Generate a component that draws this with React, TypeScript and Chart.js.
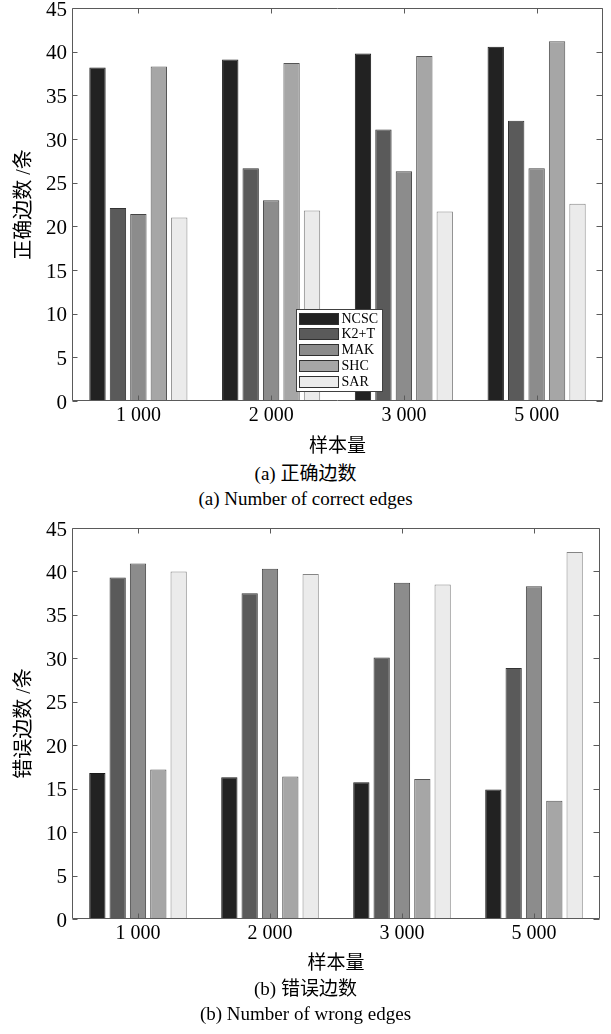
import React, { useEffect, useRef } from "react";
import { Chart, registerables } from "chart.js";

Chart.register(...registerables);

// ---------- data ----------
const categories = ["1 000", "2 000", "3 000", "5 000"];
const methods = ["NCSC", "K2+T", "MAK", "SHC", "SAR"];

const correctNCSC = [38.2, 39.1, 39.8, 40.55];
const correctK2T = [22.1, 26.65, 31.1, 32.1];
const correctMAK = [21.4, 23.0, 26.3, 26.65];
const correctSHC = [38.3, 38.7, 39.5, 41.2];
const correctSAR = [21.0, 21.8, 21.7, 22.6];

const wrongNCSC = [16.8, 16.3, 15.75, 14.9];
const wrongK2T = [39.3, 37.5, 30.1, 28.9];
const wrongMAK = [40.9, 40.3, 38.7, 38.3];
const wrongSHC = [17.2, 16.4, 16.1, 13.6];
const wrongSAR = [40.0, 39.7, 38.5, 42.25];

const yMin = 0;
const yMax = 45;
const yStep = 5;

const xTitle = "样本量";
const yTitleCorrect = "正确边数 /条";
const yTitleWrong = "错误边数 /条";
const captionA1 = "(a) 正确边数";
const captionA2 = "(a) Number of correct edges";
const captionB1 = "(b) 错误边数";
const captionB2 = "(b) Number of wrong edges";

// ---------- styles ----------
const fillColors = ["#222222", "#5a5a5a", "#8c8c8c", "#a6a6a6", "#ebebeb"];
const edgeColors = ["#1a1a1a", "#333333", "#444444", "#555555", "#858585"];
const FONT = "'Liberation Serif', 'Noto Sans CJK SC', serif";

const framePlugin = {
  id: "frame",
  afterDatasetsDraw(chart: any) {
    const { ctx, chartArea: a, scales } = chart;
    const l = Math.round(a.left) + 0.5;
    const r = Math.round(a.right) - 0.5;
    const t = Math.round(a.top) + 0.5;
    const b = Math.round(a.bottom) - 0.5;
    ctx.save();
    ctx.strokeStyle = "#5a5a5a";
    ctx.lineWidth = 1;
    ctx.beginPath();
    ctx.rect(l, t, r - l, b - t);
    const xs = scales.x;
    for (let i = 0; i < xs.ticks.length; i++) {
      const px = Math.round(xs.getPixelForTick(i)) + 0.5;
      ctx.moveTo(px, t);
      ctx.lineTo(px, t + 5);
      ctx.moveTo(px, b);
      ctx.lineTo(px, b - 5);
    }
    const ys = scales.y;
    for (const tk of ys.ticks) {
      const py = Math.round(ys.getPixelForValue(tk.value)) + 0.5;
      ctx.moveTo(l, py);
      ctx.lineTo(l + 5, py);
      ctx.moveTo(r, py);
      ctx.lineTo(r - 6, py);
    }
    ctx.stroke();
    ctx.restore();
  },
};

const boxLegendPlugin = {
  id: "boxLegend",
  afterDraw(chart: any, _args: any, opts: any) {
    if (!opts || !opts.show) return;
    const { ctx, chartArea: a } = chart;
    const x0 = Math.round(a.left + opts.dx) + 0.5;
    const y0 = Math.round(a.top + opts.dy) + 0.5;
    ctx.save();
    ctx.fillStyle = "#ffffff";
    ctx.strokeStyle = "#404040";
    ctx.lineWidth = 1;
    ctx.fillRect(x0, y0, opts.w, opts.h);
    ctx.strokeRect(x0, y0, opts.w, opts.h);
    ctx.font = `14px ${FONT}`;
    ctx.textBaseline = "middle";
    ctx.textAlign = "left";
    chart.data.datasets.forEach((ds: any, i: number) => {
      const sy = Math.round(y0 + 3 + i * 15.8) + 0.5;
      const sx = x0 + 3;
      ctx.fillStyle = ds.backgroundColor;
      ctx.fillRect(sx, sy, 39, 11);
      ctx.strokeStyle = "#303030";
      ctx.strokeRect(sx, sy, 39, 11);
      ctx.fillStyle = "#000000";
      ctx.fillText(ds.label, x0 + 45, sy + 6);
    });
    ctx.restore();
  },
};

type PanelProps = {
  top: number;
  height: number;
  xHeight: number;
  rightPad: number;
  tickPad: number;
  series: number[][];
  yTitle: string;
  legend: boolean;
};

function BarPanel(p: PanelProps) {
  const ref = useRef<HTMLCanvasElement | null>(null);
  useEffect(() => {
    if (!ref.current) return;
    const chart = new Chart(ref.current, {
      type: "bar",
      data: {
        labels: categories,
        datasets: methods.map((m, i) => ({
          label: m,
          data: p.series[i],
          backgroundColor: fillColors[i],
          borderColor: edgeColors[i],
          borderWidth: 1,
          categoryPercentage: 0.77,
          barPercentage: 0.8,
        })),
      },
      options: {
        animation: false,
        responsive: false,
        maintainAspectRatio: false,
        layout: { padding: { left: 0, right: p.rightPad, top: 20, bottom: 0 } },
        plugins: {
          legend: { display: false },
          tooltip: { enabled: false },
          boxLegend: { show: p.legend, dx: 224, dy: 301, w: 86, h: 82 },
        } as any,
        scales: {
          x: {
            grid: { display: false, drawTicks: false },
            border: { display: false },
            ticks: {
              font: { family: FONT, size: 20 },
              color: "#000000",
              padding: p.tickPad,
              maxRotation: 0,
              autoSkip: false,
            },
            title: {
              display: true,
              text: xTitle,
              font: { family: FONT, size: 19 },
              color: "#000000",
              padding: { top: 0, bottom: 4 },
            },
            afterFit: (s: any) => {
              s.height = p.xHeight;
            },
          },
          y: {
            min: yMin,
            max: yMax,
            grid: { display: false, drawTicks: false },
            border: { display: false },
            ticks: {
              stepSize: yStep,
              font: { family: FONT, size: 21 },
              color: "#000000",
              padding: 5,
              labelOffset: 2,
            },
            title: {
              display: true,
              text: p.yTitle,
              font: { family: FONT, size: 20 },
              color: "#000000",
              padding: { top: 13, bottom: 0 },
            },
            afterFit: (s: any) => {
              s.width = 72;
            },
          },
        },
      } as any,
      plugins: [framePlugin, boxLegendPlugin],
    });
    return () => chart.destroy();
  }, []);
  return (
    <canvas
      ref={ref}
      width={611}
      height={p.height}
      style={{ position: "absolute", left: 0, top: p.top, width: 611, height: p.height }}
    />
  );
}

function Caption({ text, cy }: { text: string; cy: number }) {
  return (
    <div
      style={{
        position: "absolute",
        left: 0,
        top: cy - 12,
        width: 611,
        height: 24,
        lineHeight: "24px",
        textAlign: "center",
        fontFamily: FONT,
        fontSize: 19,
        color: "#000",
        whiteSpace: "nowrap",
      }}
    >
      {text}
    </div>
  );
}

export default function App() {
  return (
    <div style={{ position: "absolute", left: 0, top: 0, width: 611, height: 1034, background: "#fff", overflow: "hidden" }}>
      <BarPanel
        top={-12}
        height={474}
        xHeight={61}
        rightPad={8}
        tickPad={3}
        series={[correctNCSC, correctK2T, correctMAK, correctSHC, correctSAR]}
        yTitle={yTitleCorrect}
        legend={true}
      />
      <Caption text={captionA1} cy={474} />
      <Caption text={captionA2} cy={499} />
      <BarPanel
        top={508}
        height={471}
        xHeight={60}
        rightPad={11}
        tickPad={3}
        series={[wrongNCSC, wrongK2T, wrongMAK, wrongSHC, wrongSAR]}
        yTitle={yTitleWrong}
        legend={false}
      />
      <Caption text={captionB1} cy={989} />
      <Caption text={captionB2} cy={1014} />
    </div>
  );
}
